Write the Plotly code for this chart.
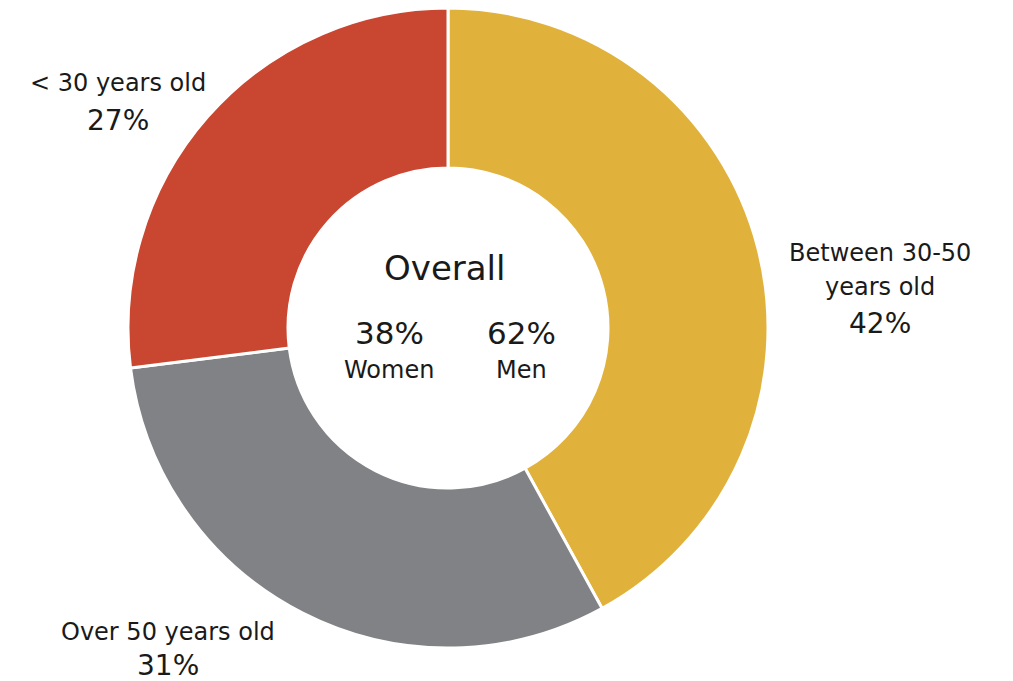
import plotly.graph_objects as go

categories = ["Between 30-50 years old", "Over 50 years old", "< 30 years old"]
values = [42, 31, 27]
colors = ["#E1B23B", "#808285", "#C94630"]
gender_labels = ["Women", "Men"]
gender_values = [38, 62]

W, H = 1013, 681
FONT = "DejaVu Sans"

fig = go.Figure(go.Pie(
    labels=categories, values=values, hole=0.5, sort=False,
    direction="clockwise", rotation=0,
    marker=dict(colors=colors, line=dict(color="white", width=3)),
    textinfo="none", hoverinfo="label+percent", showlegend=False,
    domain=dict(x=[128 / W, 768 / W], y=[33 / H, 673 / H]),
))

def ann(text, px, py, size):
    fig.add_annotation(text=text, x=px / W, y=1 - py / H, xref="paper", yref="paper",
                       xanchor="center", yanchor="middle", showarrow=False,
                       font=dict(family=FONT, size=size, color="#1a1a1a"))

ann("< 30 years old", 118, 83, 24)
ann(f"{values[2]}%", 118, 120, 28)
ann("Between 30-50", 880, 253, 24)
ann("years old", 880, 287, 24)
ann(f"{values[0]}%", 880, 323, 28)
ann("Over 50 years old", 168, 632, 24)
ann(f"{values[1]}%", 168, 665, 28)
ann("Overall", 445, 268, 34)
ann(f"{gender_values[0]}%", 389, 333, 31)
ann(f"{gender_values[1]}%", 521, 333, 31)
ann(gender_labels[0], 389, 370, 24)
ann(gender_labels[1], 521, 370, 24)

fig.update_layout(width=W, height=H, margin=dict(l=0, r=0, t=0, b=0),
                  paper_bgcolor="white", plot_bgcolor="white")
fig.write_html("out.html")
